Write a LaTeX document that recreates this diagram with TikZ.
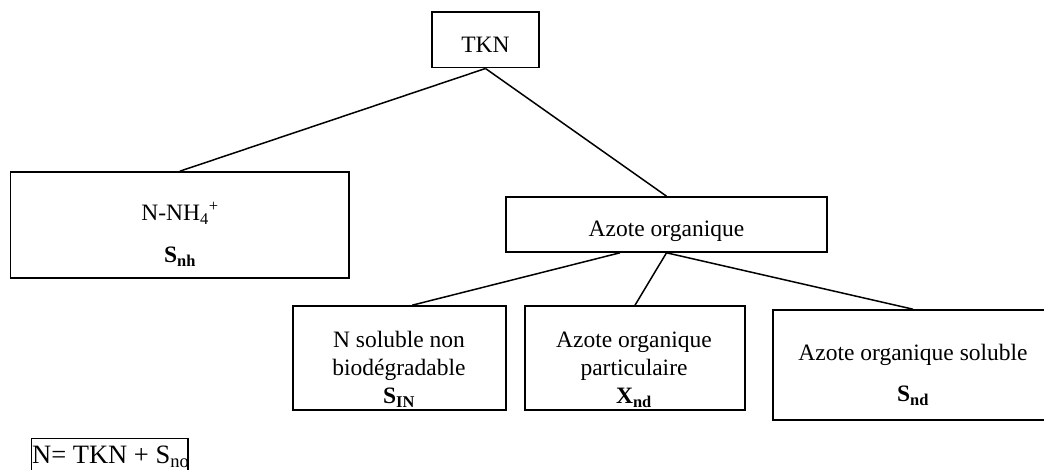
\documentclass[tikz,border=0pt]{standalone}
\usepackage{fontspec}
\setmainfont{Liberation Serif}
\begin{document}
\begin{tikzpicture}[x=1pt,y=-1pt,
  box/.style={draw, line width=1.6pt, inner sep=0pt, rectangle},
  lbl/.style={font=\fontsize{23.5}{28}\selectfont, anchor=base, inner sep=0pt},
  link/.style={line width=1.5pt}]
\clip (0,0) rectangle (1044,470);
% boxes
\node[box, minimum width=107pt, minimum height=55.4pt] (tkn) at (485.5,40) {};
\node[box, minimum width=338.3pt, minimum height=106pt] (nh) at (179.8,225) {};
\node[box, minimum width=321pt, minimum height=55pt] (org) at (666.5,224.5) {};
\node[box, minimum width=213pt, minimum height=104pt] (sin) at (399.2,358) {};
\node[box, minimum width=220pt, minimum height=104pt] (xnd) at (635,358) {};
\node[box, minimum width=280.6pt, minimum height=110pt] (snd) at (913,365) {};
\node[box, minimum width=156.4pt, minimum height=43.4pt] (form) at (109.5,460) {};
% texts
\node[lbl] (ttkn) at (485.5,52.3) {TKN};
\node[lbl] (tnh1) at (180,221) {N-NH\textsubscript{4}\textsuperscript{+}};
\node[lbl] (tnh2) at (180,263) {\textbf{S\textsubscript{nh}}};
\node[lbl] (torg) at (666.5,236.7) {Azote organique};
\node[lbl] (tsin1) at (399,347.3) {N soluble non};
\node[lbl] (tsin2) at (399,375.5) {biodégradable};
\node[lbl] (tsin3) at (399,403.3) {\textbf{S\textsubscript{IN}}};
\node[lbl] (txnd1) at (634,347.3) {Azote organique};
\node[lbl] (txnd2) at (634,375.5) {particulaire};
\node[lbl] (txnd3) at (634,403.3) {\textbf{X\textsubscript{nd}}};
\node[lbl] (tsnd1) at (913,360) {Azote organique soluble};
\node[lbl] (tsnd2) at (913,401.7) {\textbf{S\textsubscript{nd}}};
\node[lbl, anchor=base west, font=\fontsize{26.5}{30}\selectfont] (tform) at (32,463.3) {N= TKN + S\textsubscript{no}};
% connectors
\draw[link] (tkn.south) -- (nh.north);
\draw[link] (tkn.south) -- (org.north);
\draw[link] ([xshift=-46.5pt]org.south) -- ([xshift=13pt]sin.north);
\draw[link] (org.south) -- (xnd.north);
\draw[link] (org.south) -- (snd.north);
\end{tikzpicture}
\end{document}
